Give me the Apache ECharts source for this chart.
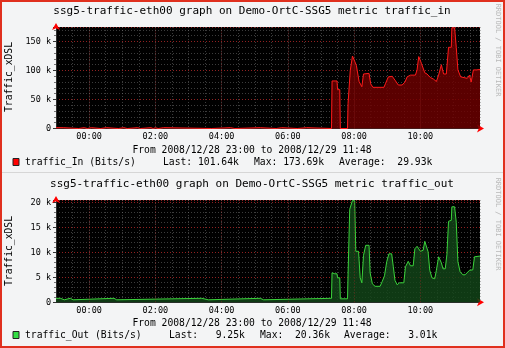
<!DOCTYPE html>
<html><head><meta charset="utf-8">
<script src="https://cdn.jsdelivr.net/npm/echarts@6/dist/echarts.min.js"></script>
<style>html,body{margin:0;padding:0;background:#f3f4f5}#c{width:505px;height:348px}</style>
</head><body><div id="c"></div>
<script>
// time axis: minutes since 2008/12/28 23:00
const majorMinutes = [60, 180, 300, 420, 540, 660];
const majorLabels = ['00:00', '02:00', '04:00', '06:00', '08:00', '10:00'];

// traffic_in, kbit/s
const inMinutes = [0,13,14,41,42,51,52,57,58,64,65,81,82,91,92,113,114,123,124,129,130,148,149,153,154,172,173,176,177,180,181,185,186,195,196,282,283,316,317,324,325,370,371,399,400,409,410,437,438,454,455,499,
  500,509,510,514,515,528,529,532,533,536,537,540,544,549,554,557,567,570,574,594,597,602,609,615,620,627,632,636,642,651,654,657,662,668,672,678,684,689,693,698,702,707,711,716,717,722,725,728,733,736,745,749,752,756,761,762,768];
const inValues = [1.5,1.5,0,0,1.5,1.5,0,0,1.5,1.5,0,0,1.5,1.5,0,0,1.5,1.5,0,0,1.5,1.5,0,0,1.5,1.5,0,0,1.5,1.5,0,0,1.5,1.5,0,0,1.5,1.5,0,0,1.5,1.5,0,0,1.5,1.5,0,0,1.5,1.5,0,0,
  82,82,67,67,0,0,43,43,100,100,125,125,109,81,72,94,95,77,71,71,78,89,90,82,75,75,80,89,92,92,101,124,112,96,94,88,85,81,92,110,94,94,140,140,173.69,173.69,140,101,89,86.5,86.5,92,80,101,101,101.64,101.64];

// traffic_out, kbit/s
const outMinutes = [0,8,9,15,16,26,27,31,32,105,106,110,111,264,265,276,277,370,371,376,377,499,
  500,505,509,510,514,515,528,529,532,537,541,543,548,551,554,557,561,567,569,573,578,587,591,595,599,603,608,611,614,618,622,630,633,638,642,647,650,654,657,660,665,668,671,674,677,681,686,689,693,698,701,705,708,711,716,717,722,725,728,732,737,741,744,749,755,758,768];
const outValues = [0.8,0.8,0.5,0.5,0.8,0.8,0.5,0.5,0.8,0.8,0.5,0.5,0.8,0.8,0.5,0.5,0.8,0.8,0.5,0.5,0.8,0.8,
  5.9,5.7,5.7,4.9,4.9,0.7,0.7,5.5,18.6,20.36,20.3,10.2,10.2,4.9,3.9,9.4,11.4,11.4,5.9,3.7,3.2,3.2,4.2,5.3,8.1,9.7,9.7,7.1,4.4,3.5,3.9,3.9,7.1,8.2,7.3,7.3,10.7,11.2,10.7,10.2,10.4,12.2,12.2,10.1,6.4,4.9,4.7,6.4,9.1,7.9,6.7,6.7,9.5,16.2,16.4,19.1,19.1,16,8.1,6.1,5.5,5.5,5.9,6.4,6.5,9.1,9.25];

const titles = ['ssg5-traffic-eth00 graph on Demo-OrtC-SSG5 metric traffic_in',
                'ssg5-traffic-eth00 graph on Demo-OrtC-SSG5 metric traffic_out'];
const periodText = 'From 2008/12/28 23:00 to 2008/12/29 11:48';
const yName = 'Traffic_xDSL';
const legendIn = ['traffic_In (Bits/s)', 'Last: 101.64k', 'Max: 173.69k', 'Average:  29.93k'];
const legendOut = ['traffic_Out (Bits/s)', 'Last:   9.25k', 'Max:  20.36k', 'Average:   3.01k'];
const watermark = 'RRDTOOL / TOBI OETIKER';

const MONO = '"DejaVu Sans Mono", monospace';
const minorGrid = 'rgba(120,120,120,0.5)';
const majorGrid = 'rgba(150,32,32,0.95)';

function xLabel(v) { const i = majorMinutes.indexOf(v); return i >= 0 ? majorLabels[i] : ''; }
function yLabel(step) {
  return v => { const r = v / step; if (Math.abs(r - Math.round(r)) > 1e-6) return ''; return v === 0 ? '0' : Math.round(v) + ' k'; };
}

const panels = [
  { top: 27, height: 101.5, yMax: 175, minor: 10, major: 50, minutes: inMinutes, values: inValues,
    line: '#ff1a1a', area: 'rgba(110,0,0,0.82)', legend: legendIn, sq: '#ff0000', title: titles[0], ty: 11, fy: 150, ly: 162, lx: [25,163,254,339], yl: 77, wm: 50 },
  { top: 200, height: 102.3, yMax: 20.46, minor: 1, major: 5, minutes: outMinutes, values: outValues,
    line: '#3bd23b', area: 'rgba(18,70,24,0.82)', legend: legendOut, sq: '#33dd44', title: titles[1], ty: 184, fy: 323.5, ly: 335, lx: [25,169,260,344], yl: 251, wm: 224 }
];

const grid = [], xAxis = [], yAxis = [], series = [], graphic = [];
const axisLabelStyle = { color: '#000', fontFamily: MONO, fontSize: 8.5 };

panels.forEach((p, i) => {
  grid.push({ left: 56, width: 424, top: p.top, height: p.height, show: true, backgroundColor: '#000', borderWidth: 0 });
  xAxis.push({ type: 'value', gridIndex: i, min: 0, max: 768, interval: 30,
    axisLine: { show: true, onZero: false, lineStyle: { color: '#ff0000', width: 1 }, symbol: ['none', 'arrow'], symbolSize: [6, 7], symbolOffset: [0, 4] },
    axisTick: { show: false },
    axisLabel: Object.assign({ formatter: xLabel, margin: 4, hideOverlap: false }, axisLabelStyle),
    splitLine: { show: true, lineStyle: { color: minorGrid, type: [1, 2], width: 1 } } });
  xAxis.push({ type: 'value', gridIndex: i, min: 0, max: 768, position: 'bottom',
    axisLine: { show: true, onZero: false, lineStyle: { color: '#2c2c2c', width: 1 } },
    axisTick: { show: false }, axisLabel: { show: false }, splitLine: { show: false } });
  yAxis.push({ type: 'value', gridIndex: i, min: 0, max: p.yMax, interval: p.minor, position: 'left',
    axisLine: { show: true, onZero: false, lineStyle: { color: '#ff0000', width: 1 }, symbol: ['none', 'arrow'], symbolSize: [6, 7], symbolOffset: [0, 4] },
    axisTick: { show: true, length: 2, lineStyle: { color: '#777' } },
    axisLabel: { show: false },
    splitLine: { show: true, lineStyle: { color: minorGrid, type: [1, 2], width: 1 } } });
  yAxis.push({ type: 'value', gridIndex: i, min: 0, max: p.yMax, interval: p.major, position: 'left',
    axisLine: { show: true, onZero: false, lineStyle: { color: '#2c2c2c', width: 1 } },
    axisTick: { show: true, length: 3, lineStyle: { color: '#333' } },
    axisLabel: Object.assign({ formatter: yLabel(p.major), margin: 5 }, axisLabelStyle),
    splitLine: { show: true, lineStyle: { color: majorGrid, type: [1, 2], width: 1 } } });
  series.push({ type: 'line', xAxisIndex: 2 * i, yAxisIndex: 2 * i + 1,
    data: p.minutes.map((m, k) => [m, p.values[k]]),
    symbol: 'none', showSymbol: false, animation: false,
    lineStyle: { color: p.line, width: 1 }, itemStyle: { color: p.line },
    areaStyle: { color: p.area, opacity: 1, origin: 'start' },
    markLine: { silent: true, symbol: ['none', 'none'], label: { show: false }, animation: false,
      lineStyle: { color: 'rgba(150,32,32,0.6)', type: [1, 2], width: 1 },
      data: majorMinutes.map(m => ({ xAxis: m })) } });

  const txt = (text, x, y, size, align, extra) => Object.assign({ type: 'text', x: x, y: y, silent: true,
    style: { text: text, font: size + 'px ' + MONO, fill: '#000', align: align, verticalAlign: 'middle' } }, extra || {});
  graphic.push(txt(p.title, 252, p.ty, 11, 'center'));
  graphic.push(txt(periodText, 252, p.fy, 9.7, 'center'));
  graphic.push(txt(yName, 9, p.yl, 9.7, 'center', { rotation: Math.PI / 2 }));
  p.legend.forEach((s, k) => graphic.push(txt(s, p.lx[k], p.ly, 9.7, 'left')));
  graphic.push({ type: 'rect', silent: true, shape: { x: 13, y: p.ly - 3.5, width: 6, height: 7 },
    style: { fill: p.sq, stroke: '#222', lineWidth: 1 } });
  graphic.push({ type: 'text', x: 498, y: p.wm, silent: true, rotation: -Math.PI / 2,
    style: { text: watermark, font: '7px ' + MONO, fill: '#b9b9b9', align: 'center', verticalAlign: 'middle' } });
});

graphic.push({ type: 'line', silent: true, shape: { x1: 2, y1: 172.5, x2: 503, y2: 172.5 }, style: { stroke: '#d6d6d6', lineWidth: 1 } });
graphic.push({ type: 'rect', silent: true, z: 100, shape: { x: 1, y: 1, width: 503, height: 346 }, style: { fill: 'none', stroke: '#e0301e', lineWidth: 2 } });

const chart = echarts.init(document.getElementById('c'), null, { renderer: 'canvas', width: 505, height: 348 });
chart.setOption({ backgroundColor: '#f3f4f5', animation: false, grid, xAxis, yAxis, series, graphic });
</script></body></html>
